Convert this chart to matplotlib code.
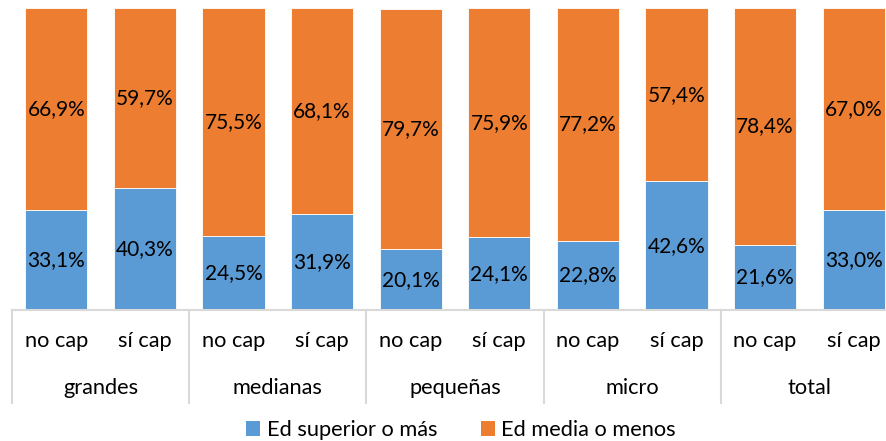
import matplotlib
matplotlib.use("Agg")
import matplotlib.pyplot as plt
from matplotlib.patches import Patch
from matplotlib.lines import Line2D

groups = ["grandes", "medianas", "pequeñas", "micro", "total"]
subcats = ["no cap", "sí cap"]
superior = [33.1, 40.3, 24.5, 31.9, 20.1, 24.1, 22.8, 42.6, 21.6, 33.0]
media = [66.9, 59.7, 75.5, 68.1, 79.7, 75.9, 77.2, 57.4, 78.4, 67.0]
series_names = ["Ed superior o más", "Ed media o menos"]

plt.rcParams['font.family'] = ['Lato', 'DejaVu Sans']
W, H = 886, 441
fig = plt.figure(figsize=(W / 100, H / 100), dpi=100)
ax = fig.add_axes([12 / W, (H - 310) / H, 886 / W, 302 / H])

blue = "#5B9BD5"
orange = "#ED7D31"
n = len(superior)
x = list(range(n))
bw = 0.70
ax.bar(x, superior, width=bw, color=blue, edgecolor="white", linewidth=0.6)
ax.bar(x, media, width=bw, bottom=superior, color=orange, edgecolor="white", linewidth=0.6)

fs = 15
fs2 = 15.7
for i in range(n):
    ax.text(x[i], superior[i] / 2, f"{superior[i]:.1f}%".replace(".", ","),
            ha="center", va="center", fontsize=fs, color="black")
    ax.text(x[i], superior[i] + media[i] / 2, f"{media[i]:.1f}%".replace(".", ","),
            ha="center", va="center", fontsize=fs, color="black")

ax.set_xlim(-0.5, n - 0.5)
ax.set_ylim(0, 100)
for s in ["top", "right", "left"]:
    ax.spines[s].set_visible(False)
ax.spines["bottom"].set_color("#D9D9D9")
ax.spines["bottom"].set_linewidth(1.5)
ax.set_yticks([])
ax.set_xticks([])

trans = matplotlib.transforms.blended_transform_factory(ax.transData, fig.transFigure)
for i in range(n):
    ax.text(x[i], (H - 341) / H, subcats[i % 2], transform=trans,
            ha="center", va="center", fontsize=fs2, color="black", clip_on=False)
for g, name in enumerate(groups):
    ax.text(2 * g + 0.5, (H - 388) / H, name, transform=trans,
            ha="center", va="center", fontsize=fs2, color="black", clip_on=False)
for g in range(len(groups) + 1):
    xb = 2 * g - 0.5
    ax.add_line(Line2D([xb, xb], [(H - 310) / H, (H - 403) / H], transform=trans,
                       color="#D9D9D9", linewidth=1.5, clip_on=False))

handles = [Patch(facecolor=blue, edgecolor="none"), Patch(facecolor=orange, edgecolor="none")]
fig.legend(handles, series_names, loc="center", bbox_to_anchor=(461 / W, (H - 430) / H),
           ncol=2, frameon=False, fontsize=fs2, handlelength=0.65, handleheight=0.65,
           handletextpad=0.3, columnspacing=2.0, borderpad=0)

fig.savefig("out.png", dpi=100)
